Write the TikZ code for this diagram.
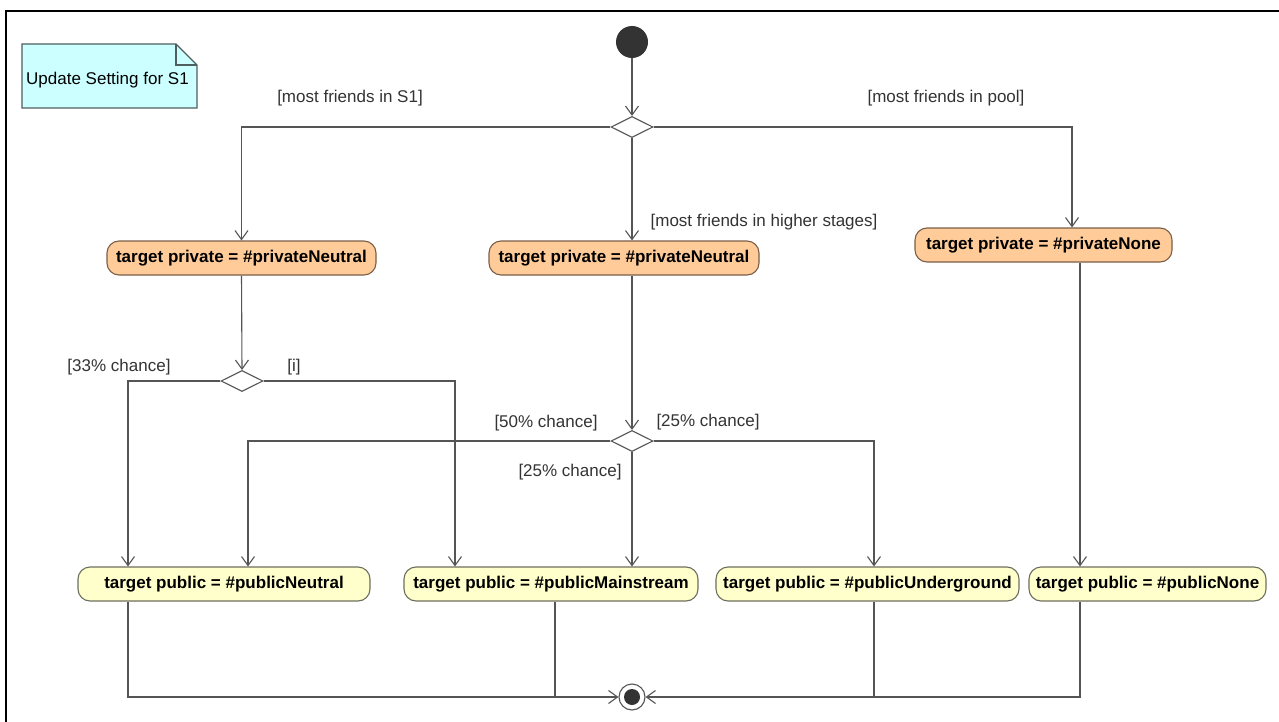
\documentclass[tikz,border=0pt]{standalone}
\usepackage{fontspec}
\setmainfont{Liberation Sans}
\usetikzlibrary{shapes.geometric,arrows.meta}
\definecolor{linegray}{HTML}{555555}
\definecolor{privfill}{HTML}{FFCC99}
\definecolor{privedge}{HTML}{7A5E48}
\definecolor{pubfill}{HTML}{FFFFCC}
\definecolor{pubedge}{HTML}{6E6E5E}
\definecolor{notefill}{HTML}{CCFFFF}
\definecolor{noteedge}{HTML}{4F5F5F}
\definecolor{dotfill}{HTML}{333333}
\tikzset{
  flow/.style={draw=linegray, line width=1.1pt, -{Straight Barb[length=9pt,width=13pt,line width=1.1pt]}},
  plain/.style={draw=linegray, line width=1.1pt},
  action/.style={rounded corners=12pt, line width=1.1pt, inner sep=0pt,
    minimum height=34pt, font=\fontsize{17}{20}\selectfont\bfseries},
  privbox/.style={action, fill=privfill, draw=privedge},
  pubbox/.style={action, fill=pubfill, draw=pubedge},
  decision/.style={diamond, draw=linegray, fill=white, line width=1.1pt,
    inner sep=0pt, minimum width=42pt, minimum height=21pt},
  guard/.style={font=\fontsize{17}{20}\selectfont, text=dotfill, inner sep=0pt},
}
\begin{document}
\begin{tikzpicture}[x=1pt, y=-1pt]
\useasboundingbox (0,0) rectangle (1279,722);
\fill[white] (0,0) rectangle (1279,722);

% diagram frame
\draw[black, line width=2pt] (6,722) -- (6,11) -- (1279,11);

% note
\filldraw[fill=notefill, draw=noteedge, line width=1.1pt]
  (22,44) -- (176,44) -- (197,65) -- (197,108) -- (22,108) -- cycle;
\draw[noteedge, line width=1.1pt] (176,44) -- (176,65) -- (197,65);
\node[anchor=west, font=\fontsize{17}{20}\selectfont, inner sep=0pt] (notetext) at (26,80) {Update Setting for S1};

% column guides
\coordinate (xa) at (128,0);
\coordinate (xc) at (248,0);
\coordinate (xd) at (455,0);
\coordinate (xe) at (555,0);
\coordinate (xg) at (874,0);
\coordinate (xh) at (1072,0);
\coordinate (xi) at (1080,0);

% control nodes
\node[circle, fill=dotfill, minimum size=32pt, inner sep=0pt] (start) at (632,42) {};
\node[decision] (d1) at (632,127) {};
\node[decision] (d2) at (242,381) {};
\node[decision] (d3) at (632,441) {};
\node[circle, draw=linegray, fill=white, line width=1.1pt, minimum size=26pt, inner sep=0pt] (fin) at (632,697) {};
\fill[dotfill] (fin.center) circle (8);

% actions
\node[privbox, minimum width=269pt] (p1) at (241.5,258) {target private = \#privateNeutral};
\node[privbox, minimum width=270pt] (p2) at (624,258) {target private = \#privateNeutral};
\node[privbox, minimum width=257pt] (p3) at (1043.5,245) {target private = \#privateNone};
\node[pubbox, minimum width=292pt] (n1) at (224,584) {target public = \#publicNeutral};
\node[pubbox, minimum width=294pt] (n2) at (551,584) {target public = \#publicMainstream};
\node[pubbox, minimum width=303pt] (n3) at (867.5,584) {target public = \#publicUnderground};
\node[pubbox, minimum width=237pt] (n4) at (1147.5,584) {target public = \#publicNone};

% flows
\draw[flow] (start) -- (d1);
\draw[flow] (d1.west) -| (p1.north);
\draw[flow] (d1.south) -- (p2.north -| d1);
\draw[flow] (d1.east) -| (p3.north -| xh);

\draw[flow] (p1.south) -- (d2.north);
\draw[flow] (d2.west) -| (n1.north -| xa);
\draw[flow] (d2.east) -| (n2.north -| xd);

\draw[flow] (p2.south -| d3) -- (d3.north);
\draw[flow] (d3.west) -| (n1.north -| xc);
\draw[flow] (d3.south) -- (n2.north -| d3);
\draw[flow] (d3.east) -| (n3.north -| xg);

\draw[flow] (p3.south -| xi) -- (n4.north -| xi);

\draw[flow] (n1.south -| xa) |- (fin.west);
\draw[plain] (n2.south -| xe) -- (fin -| xe);
\draw[flow] (n4.south -| xi) |- (fin.east);
\draw[plain] (n3.south -| xg) -- (fin -| xg);

% guards
\node[guard] (g1) at (350,98) {[most friends in S1]};
\node[guard] (g2) at (946,98) {[most friends in pool]};
\node[guard] (g3) at (764,222) {[most friends in higher stages]};
\node[guard] (g4) at (119,367) {[33\% chance]};
\node[guard] (g5) at (294,367) {[i]};
\node[guard] (g6) at (546,423) {[50\% chance]};
\node[guard] (g7) at (708,422) {[25\% chance]};
\node[guard] (g8) at (570,472) {[25\% chance]};
\end{tikzpicture}
\end{document}
